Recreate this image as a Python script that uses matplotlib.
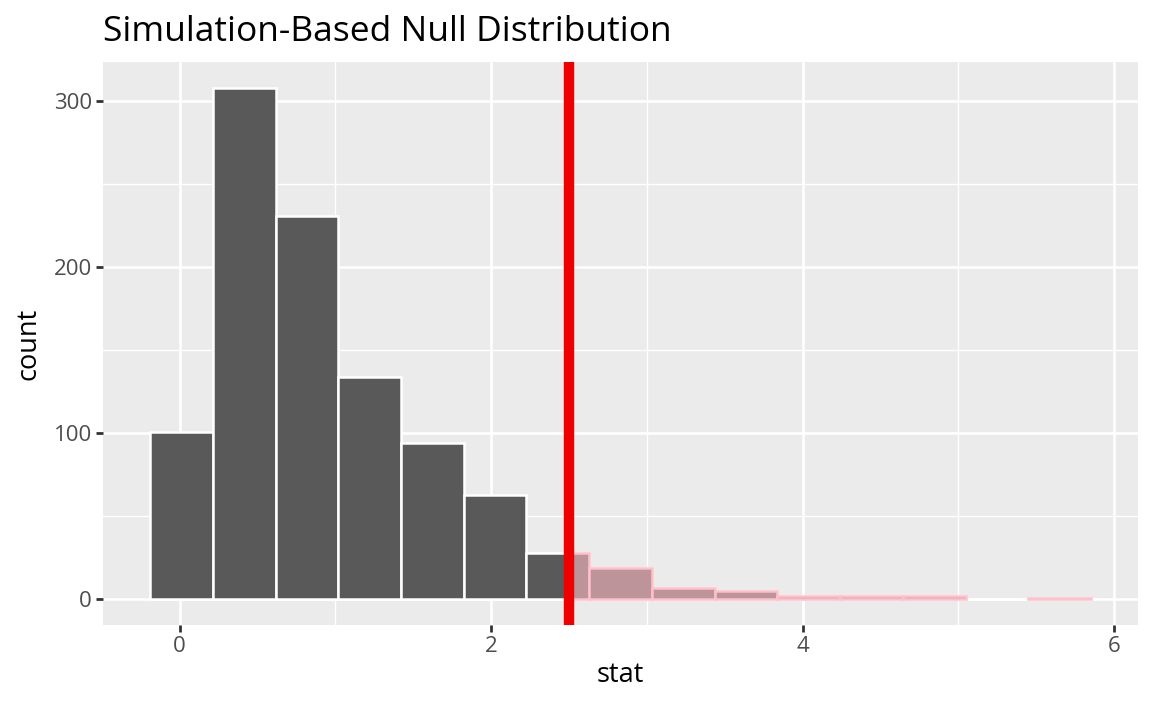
import matplotlib
matplotlib.use("Agg")
import matplotlib.pyplot as plt
import numpy as np

# histogram data (15 bins)
bin_start = -0.19
bin_width = 0.4027
counts = [101, 308, 231, 134, 94, 63, 28, 19, 7, 5, 2, 2, 2, 0, 1]
obs_stat = 2.5
title = "Simulation-Based Null Distribution"
x_ticks = [0, 2, 4, 6]
y_ticks = [0, 100, 200, 300]

plt.rcParams['font.family'] = ['Open Sans', 'DejaVu Sans']

fig = plt.figure(figsize=(11.52, 7.11), dpi=100)
ax = fig.add_axes([103 / 1152, 1 - 625 / 711, (1138 - 103) / 1152, (625 - 62) / 711])
ax.set_facecolor("#EBEBEB")

edges = bin_start + bin_width * np.arange(len(counts) + 1)
lefts = edges[:-1]

# base histogram
ax.bar(lefts, counts, width=bin_width, align="edge", color="#595959",
       edgecolor="white", linewidth=1.8, zorder=3)

# shaded part right of the observed statistic
for l, r, c in zip(edges[:-1], edges[1:], counts):
    if r <= obs_stat or c == 0:
        continue
    start = max(l, obs_stat)
    ax.bar(start, c, width=r - start, align="edge", color="#BC9499",
           edgecolor="#FFC0CB", linewidth=1.8, zorder=4)

ax.axvline(obs_stat, color="#EE0000", linewidth=7.5, zorder=5)

xr = edges[-1] - edges[0]
ax.set_xlim(edges[0] - 0.05 * xr, edges[-1] + 0.05 * xr)
ymax = max(counts)
ax.set_ylim(-0.05 * ymax, ymax * 1.05)

ax.set_xticks(x_ticks)
ax.set_yticks(y_ticks)
ax.set_xticks([1, 3, 5], minor=True)
ax.set_yticks([50, 150, 250], minor=True)
ax.grid(True, which="major", color="white", linewidth=1.9, zorder=0)
ax.grid(True, which="minor", color="white", linewidth=1.0, zorder=0)
ax.set_axisbelow(True)

for s in ax.spines.values():
    s.set_visible(False)

ax.tick_params(which="major", length=5, width=2, color="#333333",
               labelcolor="#4D4D4D", labelsize=16, pad=3)
ax.tick_params(which="minor", length=0)

ax.set_xlabel("stat", fontsize=19.5, labelpad=3)
ax.set_ylabel("count", fontsize=19.5, labelpad=8)
ax.set_title(title, fontsize=25.5, loc="left", pad=15)

fig.savefig("out.png", dpi=100)
